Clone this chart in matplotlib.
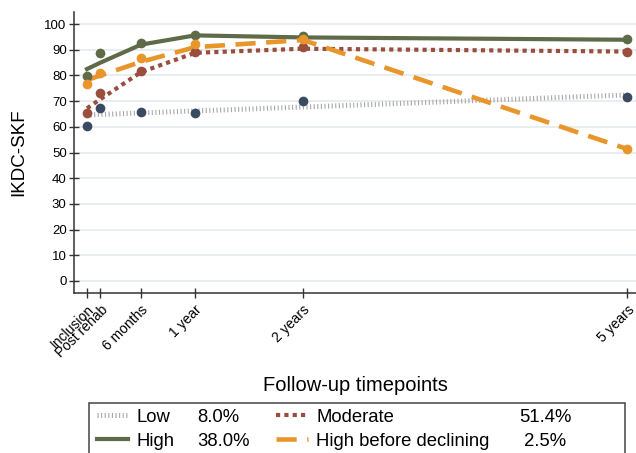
import numpy as np
import matplotlib.pyplot as plt
from matplotlib.patches import Rectangle

plt.rcParams['font.family'] = ['Liberation Sans', 'DejaVu Sans']

# follow-up timepoints, in months since inclusion
months = [0, 1.5, 6, 12, 24, 60]
tick_labels = ["Inclusion", "Post rehab", "6 months", "1 year", "2 years", "5 years"]

groups = ["Low", "High", "Moderate", "High before declining"]
shares = ["8.0%", "38.0%", "51.4%", " 2.5%"]

# observed means (dots)
low_obs = [60.3, 67.3, 65.8, 65.4, 70.0, 71.7]
high_obs = [79.8, 88.8, 92.5, 95.7, 95.4, 94.2]
moderate_obs = [65.2, 73.2, 81.6, 89.2, 90.9, 89.2]
declining_obs = [76.7, 81.0, 86.9, 92.1, 94.0, 51.4]

# estimated trajectories (lines)
low_fit = [64.6, 64.8, 65.4, 66.2, 67.7, 72.4]
high_fit = [82.5, 85.0, 92.0, 95.6, 94.8, 93.9]
moderate_fit = [67.2, 70.8, 81.3, 88.8, 90.4, 89.3]
declining_fit = [78.2, 80.0, 85.3, 91.0, 93.8, 51.4]

fig = plt.figure(figsize=(6.36, 4.53), dpi=100)
ax = fig.add_axes([74.3/636, 1-293.3/453, (636-74.3)/636, (293.3-12)/453])

line_styles = [
    dict(color="#a8a8a8", lw=3.6, ls=(0, (0.22, 0.5)), solid_capstyle="butt", dash_capstyle="butt"),
    dict(color="#5f6a48", lw=3.0, ls="-"),
    dict(color="#9a4e3e", lw=3.0, ls=(0, (1, 1)), dash_capstyle="butt"),
    dict(color="#e8952b", lw=3.3, ls=(0, (4.4, 2.3)), dash_capstyle="butt"),
]
dot_colors = ["#3a4a62", "#5f6a48", "#9a4e3e", "#e8952b"]

fits = [low_fit, high_fit, moderate_fit, declining_fit]
obs = [low_obs, high_obs, moderate_obs, declining_obs]

handles = []
for fit, st in zip(fits, line_styles):
    h, = ax.plot(months, fit, zorder=2, **st)
    handles.append(h)
for o, c in zip(obs, dot_colors):
    ax.plot(months, o, ls="none", marker="o", ms=7, color=c, mec="none", zorder=3)

ax.set_xlim(-1.41, 61.0)
ax.set_ylim(-4.8, 104.7)
ax.set_yticks(np.arange(0, 101, 10))
ax.set_xticks(months)
ax.set_xticklabels(tick_labels, rotation=45, ha="right", va="top", rotation_mode="anchor")
ax.tick_params(direction="inout", length=7, width=1, color="#333333", labelsize=9.5, pad=2)
ax.tick_params(axis="x", pad=3, labelsize=10)
ax.yaxis.grid(True, color="#e6eaee", lw=1.2)
ax.set_axisbelow(True)
for s in ["top", "right"]:
    ax.spines[s].set_visible(False)
for s in ["left", "bottom"]:
    ax.spines[s].set_color("#333333")
    ax.spines[s].set_linewidth(1.1)

ax.set_ylabel("IKDC-SKF", fontsize=13.5, labelpad=12)
ax.set_xlabel("Follow-up timepoints", fontsize=14.5, labelpad=12)

# legend: handles + names, shares as separate column texts
leg = fig.legend(handles, groups, ncol=2, loc="upper left", frameon=False,
                 bbox_to_anchor=(97/636, 1-408.5/453), borderpad=0, borderaxespad=0,
                 fontsize=13.3, handlelength=1.7, handletextpad=0.45,
                 columnspacing=5.5, labelspacing=0.39)
# order in legend is column-major: Low, High | Moderate, High before declining
share_x = [197, 197, 519, 519]
share_y = [422, 446, 422, 446]
for s, x, y in zip(shares, share_x, share_y):
    fig.text(x/636, 1-y/453, s, fontsize=13.3, va="baseline", ha="left")
fig.patches.append(Rectangle((89/636, -0.05), (625-89)/636, 0.05+1-403/453,
                             transform=fig.transFigure, fill=False,
                             edgecolor="#444444", lw=1.1))

fig.savefig("out.png", dpi=100)
